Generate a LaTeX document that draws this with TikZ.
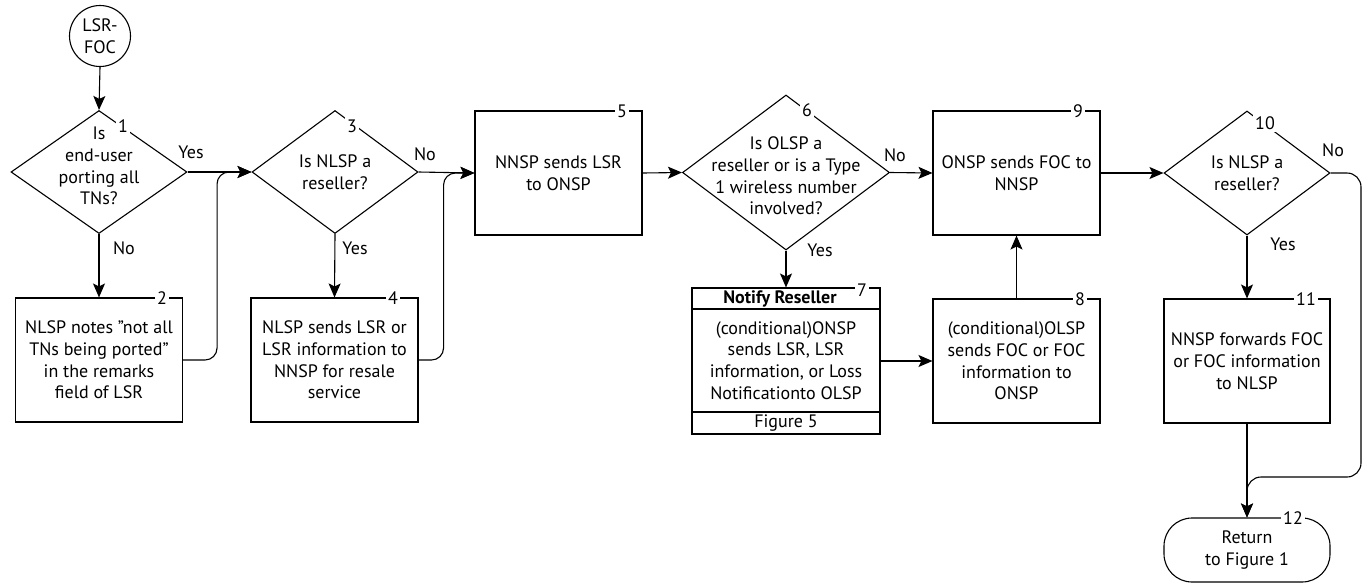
\documentclass[tikz,border=0pt]{standalone}
\usepackage{fontspec}
\setmainfont{PT Sans}
\usetikzlibrary{arrows.meta,shapes.geometric}

\tikzset{
    process/.style={draw, line width=1.1pt, minimum width=167pt, minimum height=124pt, align=center, inner sep=0pt},
    decision/.style={draw, diamond, line width=1.1pt, inner sep=0pt},
    terminal/.style={draw, line width=1.1pt, rounded corners=28pt, minimum width=166pt, minimum height=64pt, align=center, inner sep=0pt},
    txt/.style={align=center, inner sep=0pt},
    num/.style={fill=white, inner sep=2.5pt},
    arr/.style={-{Stealth[length=14pt,width=12pt,inset=3pt]}, line width=1.1pt},
}

\begin{document}
\begin{tikzpicture}[x=1pt, y=-1pt, every node/.style={font=\fontsize{18}{21.7}\selectfont}]
        \fill[white] (0,0) rectangle (1362,584);
        \useasboundingbox (0,0) rectangle (1362,584);

        \node[circle, draw, line width=1.1pt, minimum size=61pt, align=center, inner sep=0pt] (start) at (100,36) {LSR-\\FOC};

        \node[decision, minimum width=176pt, minimum height=123pt] (d1) at (99,172) {};
        \node[txt] (t1) at (99,166) {Is\\end-user\\porting all\\TNs?};
        \node[num] (n1) at (123,126) {1};

        \node[process] (b2) at (99,360) {NLSP notes \symbol{34}not all\\TNs being ported\symbol{34}\\in the remarks\\field of LSR};
        \node[num] (n2) at (162,298) {2};

        \node[decision, minimum width=166pt, minimum height=123pt] (d3) at (335,172) {};
        \node[txt] (t3) at (335,172) {Is NLSP a\\reseller?};
        \node[num] (n3) at (352,126) {3};

        \node[process] (b4) at (334.5,360) {NLSP sends LSR or\\LSR information to\\NNSP for resale\\service};
        \node[num] (n4) at (393,298) {4};

        \node[process] (b5) at (558.5,173) {NNSP sends LSR\\to ONSP};
        \node[num] (n5) at (622,111) {5};

        \node[decision, minimum width=207pt, minimum height=155pt] (d6) at (786,172.5) {};
        \node[txt] (t6) at (786,176) {Is OLSP a\\reseller or is a Type\\1 wireless number\\involved?};
        \node[num] (n6) at (807,110) {6};

        \node[draw, line width=1.1pt, minimum width=188pt, minimum height=146pt, inner sep=0pt] (b7) at (786,361) {};
        \draw[line width=1.1pt] (b7.west |- 0,309) -- (b7.east |- 0,309);
        \draw[line width=1.1pt] (b7.west |- 0,412) -- (b7.east |- 0,412);
        \node[txt] (h7) at (780,299) {\bfseries Notify Reseller};
        \node[txt] (t7) at (786,360.5) {(conditional)ONSP\\sends LSR, LSR\\information, or Loss\\Notificationto OLSP};
        \node[txt] (f7) at (786,423) {Figure 5};
        \node[num] (n7) at (862,290) {7};

        \node[process] (b8) at (1016.5,361) {(conditional)OLSP\\sends FOC or FOC\\information to\\ONSP};
        \node[num] (n8) at (1080,299) {8};

        \node[process] (b9) at (1016.5,173) {ONSP sends FOC to\\NNSP};
        \node[num] (n9) at (1078,111) {9};

        \node[decision, minimum width=166pt, minimum height=124pt] (d10) at (1247,173) {};
        \node[txt] (t10) at (1247,173) {Is NLSP a\\reseller?};
        \node[num] (n10) at (1265,123) {10};

        \node[process, minimum width=166pt] (b11) at (1247,361) {NNSP forwards FOC\\or FOC information\\to NLSP};
        \node[num] (n11) at (1306,299) {11};

        \node[terminal] (t12) at (1247,550) {Return\\to Figure 1};
        \node[num] (n12) at (1293,518) {12};

        \node (yes1) at (191,152) {Yes};
        \node (no1) at (124,248) {No};
        \node (no3) at (425,154) {No};
        \node (yes3) at (355,248) {Yes};
        \node (no6) at (895,155) {No};
        \node (yes6) at (820,250) {Yes};
        \node (no10) at (1333,150) {No};
        \node (yes10) at (1283,244) {Yes};

        \coordinate (edge) at (1361,477);

        \draw[arr] (start.south) -- (d1.north);
        \draw[arr] (d1.east) -- (d3.west);
        \draw[arr] (d1.south) -- (b2.north);
        \draw[arr, rounded corners=12pt] (b2.east) -- ++(34,0) |- (d3.west);
        \draw[arr] (d3.east) -- (b5.west);
        \draw[arr] (d3.south) -- (b4.north);
        \draw[arr, rounded corners=12pt] (b4.east) -- ++(25,0) |- (b5.west);
        \draw[arr] (b5.east) -- (d6.west);
        \draw[arr] (d6.east) -- (b9.west);
        \draw[arr] (d6.south) -- (b7.north);
        \draw[arr] (b7.east) -- (b8.west);
        \draw[arr] (b8.north) -- (b9.south);
        \draw[arr] (b9.east) -- (d10.west);
        \draw[arr] (d10.south) -- (b11.north);
        \draw[arr] (b11.south) -- (t12.north);
        \draw[arr, rounded corners=14pt] (d10.east) -| (edge) -| (t12.north);
\end{tikzpicture}
\end{document}
